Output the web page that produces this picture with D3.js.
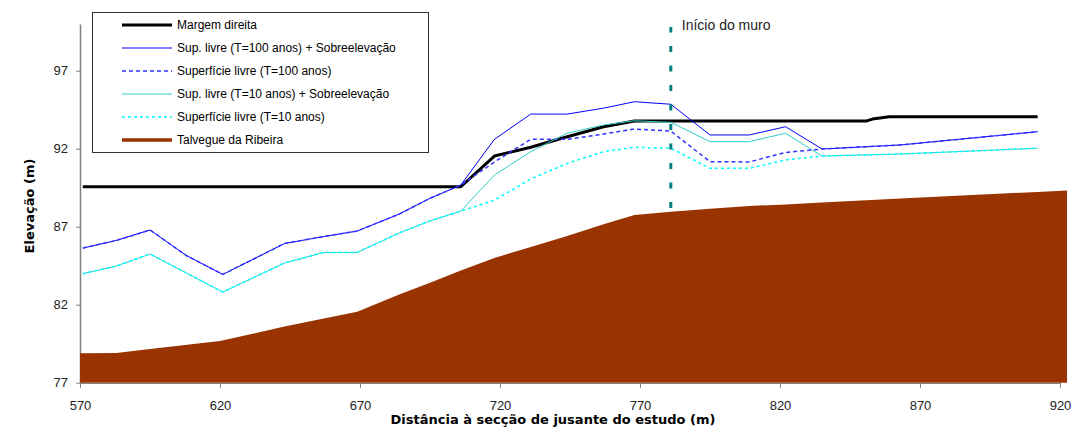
<!DOCTYPE html>
<html>
<head>
<meta charset="utf-8">
<script src="https://cdn.jsdelivr.net/npm/d3@7"></script>
<style>
  body { margin: 0; background: #fff; }
  text { font-family: "Liberation Sans", Arial, sans-serif; }
  text.titulo { font-family: "DejaVu Sans", Verdana, sans-serif; font-weight: bold; font-size: 13px; }
</style>
</head>
<body>
<svg width="1075" height="430"></svg>
<script>
// secções (m) e cotas
var seccoes = [571, 583, 595, 608, 621, 643, 657, 669, 684, 695, 706, 718, 731, 744, 757, 768, 781, 795, 809, 822, 835, 863, 912];
var supLivre100Sobre = [85.63, 86.12, 86.79, 85.15, 83.94, 85.92, 86.37, 86.72, 87.81, 88.82, 89.67, 92.60, 94.22, 94.22, 94.60, 95.01, 94.85, 92.88, 92.88, 93.41, 91.98, 92.24, 93.09];
var supLivre100 = [85.63, 86.12, 86.79, 85.15, 83.94, 85.92, 86.37, 86.72, 87.81, 88.82, 89.67, 91.15, 92.60, 92.60, 92.94, 93.26, 93.13, 91.17, 91.15, 91.76, 91.98, 92.24, 93.09];
var supLivre10Sobre = [83.99, 84.48, 85.25, 84.03, 82.81, 84.67, 85.35, 85.35, 86.60, 87.37, 88.00, 90.31, 91.81, 93.00, 93.52, 93.79, 93.69, 92.45, 92.45, 92.99, 91.53, 91.66, 92.03];
var supLivre10 = [83.99, 84.48, 85.25, 84.03, 82.81, 84.67, 85.35, 85.35, 86.60, 87.37, 88.00, 88.70, 90.06, 91.06, 91.81, 92.09, 92.03, 90.74, 90.74, 91.28, 91.53, 91.66, 92.03];

var margemX = [571, 706, 718, 731, 744, 757, 768, 851, 853, 859, 912];
var margemY = [89.56, 89.56, 91.53, 92.09, 92.77, 93.41, 93.78, 93.78, 93.90, 94.05, 94.05];

var talvegueX = [570, 583, 595, 620, 643, 669, 684, 695, 706, 718, 731, 744, 757, 768, 781, 795, 809, 822, 835, 863, 912, 922.5];
var talvegueY = [78.88, 78.90, 79.16, 79.67, 80.60, 81.55, 82.65, 83.40, 84.20, 85.00, 85.70, 86.40, 87.15, 87.75, 87.96, 88.15, 88.33, 88.43, 88.55, 88.80, 89.23, 89.32];

var muroX = [781, 781];
var muroY = [88.2, 99.8];

var xTicks = [570, 620, 670, 720, 770, 820, 870, 920];
var yTicks = [77, 82, 87, 92, 97];

var legendaNomes = ["Margem direita", "Sup. livre (T=100 anos) + Sobreelevação", "Superfície livre (T=100 anos)",
  "Sup. livre (T=10 anos) + Sobreelevação", "Superfície livre (T=10 anos)", "Talvegue da Ribeira"];

var svg = d3.select("svg");

var x = d3.scaleLinear().domain([570, 920]).range([80, 1060]),
    y = d3.scaleLinear().domain([77, 100]).range([382.7, 23.9]);

// estilos das séries (mesma ordem da legenda)
var estilos = [
  {cor: "#000000", largura: 3, traco: null},
  {cor: "#0000ff", largura: 1, traco: null},
  {cor: "#3333ff", largura: 1.5, traco: "4,3"},
  {cor: "#33cccc", largura: 1, traco: null},
  {cor: "#00ffff", largura: 1.5, traco: "3,3"},
  {cor: "#993300", largura: 4, traco: null}
];

function pares(xs, ys) { return xs.map(function(d, i) { return [d, ys[i]]; }); }

var linha = d3.line().x(function(d) { return x(d[0]); }).y(function(d) { return y(d[1]); });

// eixo y
var eixoY = svg.append("g")
    .attr("transform", "translate(80,0)")
    .call(d3.axisLeft(y).tickValues(yTicks).tickSize(4).tickSizeOuter(0).tickPadding(8));
eixoY.select(".domain").attr("stroke", "#808080").attr("stroke-width", 1.5);
eixoY.selectAll(".tick line").attr("stroke", "#808080");
eixoY.selectAll("text").attr("font-size", 13).attr("fill", "#222");

// eixo x
var eixoX = svg.append("g")
    .attr("transform", "translate(0,383)")
    .call(d3.axisBottom(x).tickValues(xTicks).tickSize(5).tickSizeOuter(0).tickPadding(13));
eixoX.select(".domain").attr("stroke", "#808080");
eixoX.selectAll(".tick line").attr("stroke", "#808080");
eixoX.selectAll("text").attr("font-size", 13).attr("fill", "#222");

// talvegue (área)
var area = d3.area()
    .x(function(d) { return x(d[0]); })
    .y0(y(77))
    .y1(function(d) { return y(d[1]); });
svg.append("path")
    .datum(pares(talvegueX, talvegueY))
    .attr("fill", "#993300")
    .attr("d", area);

// linhas
var series = [
  pares(margemX, margemY),
  pares(seccoes, supLivre100Sobre),
  pares(seccoes, supLivre100),
  pares(seccoes, supLivre10Sobre),
  pares(seccoes, supLivre10)
];
series.forEach(function(s, i) {
  svg.append("path")
      .datum(s)
      .attr("fill", "none")
      .attr("stroke", estilos[i].cor)
      .attr("stroke-width", estilos[i].largura)
      .attr("stroke-dasharray", estilos[i].traco)
      .attr("stroke-linejoin", "round")
      .attr("d", linha);
});

// início do muro
svg.append("path")
    .datum(pares(muroX, muroY))
    .attr("fill", "none")
    .attr("stroke", "#008080")
    .attr("stroke-width", 3)
    .attr("stroke-dasharray", "6,13.5")
    .attr("d", linha);
svg.append("text")
    .attr("x", x(781) + 11)
    .attr("y", 30)
    .attr("font-size", 14)
    .attr("fill", "#222")
    .text("Início do muro");

// títulos dos eixos
svg.append("text")
    .attr("class", "titulo")
    .attr("x", 553)
    .attr("y", 424)
    .attr("text-anchor", "middle")
    .text("Distância à secção de jusante do estudo (m)");
svg.append("text")
    .attr("class", "titulo")
    .attr("transform", "translate(34,206) rotate(-90)")
    .attr("text-anchor", "middle")
    .text("Elevação (m)");

// legenda
var leg = svg.append("g");
leg.append("rect")
    .attr("x", 92.5).attr("y", 12.5)
    .attr("width", 336).attr("height", 140)
    .attr("fill", "#fff")
    .attr("stroke", "#333");
legendaNomes.forEach(function(nome, i) {
  var ly = 25 + i * 23;
  leg.append("line")
      .attr("x1", 122).attr("x2", 172)
      .attr("y1", ly).attr("y2", ly)
      .attr("stroke", estilos[i].cor)
      .attr("stroke-width", i == 5 ? 3.5 : estilos[i].largura)
      .attr("stroke-dasharray", estilos[i].traco);
  leg.append("text")
      .attr("x", 177).attr("y", ly + 4)
      .attr("font-size", 12)
      .attr("fill", "#000")
      .text(nome);
});
</script>
</body>
</html>
